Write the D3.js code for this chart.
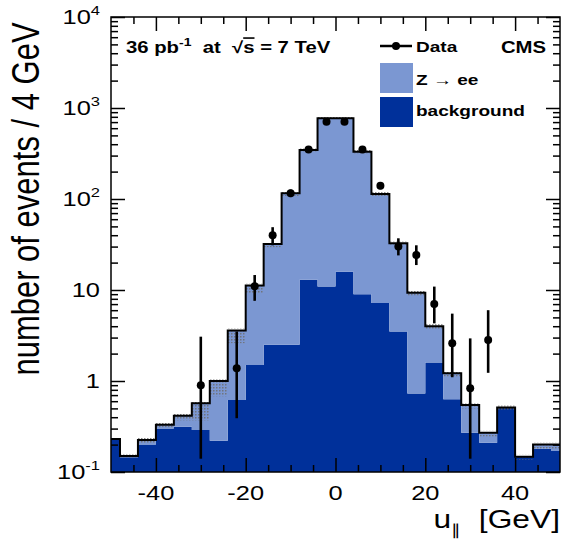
<!DOCTYPE html>
<html>
<head>
<meta charset="utf-8">
<script src="https://cdn.jsdelivr.net/npm/d3@7"></script>
<style>
  html, body { margin: 0; padding: 0; background: #fff; }
  svg { display: block; font-family: "Liberation Sans", Arial, Helvetica, sans-serif; }
</style>
</head>
<body>
<svg id="chart" width="562" height="543"></svg>
<script>
// u_parallel histogram, 4 GeV bins (bin centres)
const binCenters = [-50, -46, -42, -38, -34, -30, -26, -22, -18, -14, -10, -6, -2,
                    2, 6, 10, 14, 18, 22, 26, 30, 34, 38, 42, 46, 50];
const binWidth = 4;

// expected events per bin
const background = [0.23, 0.145, 0.2, 0.3, 0.315, 0.29, 0.22, 0.62, 1.5, 2.5, 2.5, 13, 10.9,
                    15.9, 9.0, 7.2, 3.5, 0.73, 1.6, 0.63, 0.27, 0.21, 0.51, 0.147, 0.18, 0.17];
const zee = [0, 0.005, 0.025, 0.03, 0.1, 0.28, 0.78, 2.98, 9.7, 29.5, 113.5, 332, 759,
             754, 322, 106, 29.1, 8.57, 2.4, 0.59, 0.275, 0.06, 0, 0, 0.02, 0.03];

// lower edge of the simulation statistical-uncertainty band
const mcBandLow = [0.22, 0.142, 0.205, 0.31, 0.37, 0.37, 0.68, 2.6, 9.2, 29.5, 108, 330, 750,
                   750, 318, 108, 30.5, 8.7, 3.7, 1.12, 0.5, 0.245, 0.48, 0.137, 0.18, 0.18];

// observed data (null = no entry drawn)
const dataValue = [null, null, null, null, null, 0.9, null, 1.38, 11, 40, 116, 350, 706,
                   706, 350, 140, 30, 24.3, 7.0, 2.6, 0.83, 2.83, null, null, null, null];
const dataErrLow = [null, null, null, null, null, 0.14, null, 0.39, 7.6, 31, 105, 331, 680,
                    680, 331, 128, 24, 18.8, 4.3, 1.1, 0.14, 1.23, null, null, null, null];
const dataErrHigh = [null, null, null, null, null, 3.07, null, 3.5, 14.6, 49, 127, 369, 732,
                     732, 369, 152, 37, 31, 10.9, 5.5, 2.94, 6.0, null, null, null, null];

const xTicks = [-40, -20, 0, 20, 40];
const xTickLabels = ["-40", "-20", "0", "20", "40"];
const yTicks = [0.1, 1, 10, 100, 1000, 10000];
const yTickLabels = [["10", "-1"], ["1", ""], ["10", ""], ["10", "2"], ["10", "3"], ["10", "4"]];

const colBackground = "#00309a";
const colZee = "#7b97d2";
const S = 1.27; // horizontal glyph stretch used for all lettering

const svg = d3.select("#chart");
const L = 111, R = 560, T = 17, B = 472;

const x = d3.scaleLinear().domain([-50, 50]).range([L, R]);
const y = d3.scaleLog().domain([0.1, 1e4]).range([B, T]);

const defs = svg.append("defs");
defs.append("clipPath").attr("id", "plotclip")
  .append("rect").attr("x", L).attr("y", T).attr("width", R - L).attr("height", B - T);
const pat = defs.append("pattern").attr("id", "mcunc")
  .attr("width", 3).attr("height", 3).attr("patternUnits", "userSpaceOnUse");
pat.append("rect").attr("width", 1.5).attr("height", 1.5).attr("fill", "#6e6e6e");

// stacked simulation, drawn as step areas
const rows = binCenters.map((c, i) => ({ c, background: background[i], zee: zee[i] }));
const layers = d3.stack().keys(["background", "zee"])(rows);
const colors = { background: colBackground, zee: colZee };

const plot = svg.append("g").attr("clip-path", "url(#plotclip)");
const floorV = v => Math.max(v, 0.1);
const stepArea = d3.area()
  .x(d => x(d.e))
  .y0(d => y(floorV(d.lo)))
  .y1(d => y(floorV(d.hi)))
  .curve(d3.curveStepAfter);

layers.forEach(layer => {
  const pts = layer.map(d => ({ e: d.data.c - binWidth / 2, lo: d[0], hi: d[1] }));
  const last = layer[layer.length - 1];
  pts.push({ e: last.data.c + binWidth / 2, lo: last[0], hi: last[1] });
  plot.append("path").attr("d", stepArea(pts)).attr("fill", colors[layer.key]);
});

// total prediction
const total = rows.map(r => r.background + r.zee);

// uncertainty band
plot.append("g").selectAll("rect")
  .data(binCenters.map((c, i) => ({ c, lo: mcBandLow[i], hi: total[i] })))
  .join("rect")
  .attr("x", d => x(d.c - binWidth / 2))
  .attr("width", d => x(d.c + binWidth / 2) - x(d.c - binWidth / 2))
  .attr("y", d => y(d.hi) - 2)
  .attr("height", d => y(d.lo) - y(d.hi) + 2)
  .attr("fill", "url(#mcunc)")
  .attr("opacity", 0.85);

// outline of the total
const stepPts = binCenters.map((c, i) => [c - binWidth / 2, total[i]]);
stepPts.push([binCenters[binCenters.length - 1] + binWidth / 2, total[total.length - 1]]);
plot.append("path")
  .attr("d", d3.line().x(d => x(d[0])).y(d => y(d[1])).curve(d3.curveStepAfter)(stepPts))
  .attr("fill", "none").attr("stroke", "#000").attr("stroke-width", 2);

// data points
const dataPts = binCenters.map((c, i) => ({ c, v: dataValue[i], lo: dataErrLow[i], hi: dataErrHigh[i] }))
  .filter(d => d.v !== null);
const dg = plot.append("g");
dg.selectAll("line").data(dataPts).join("line")
  .attr("x1", d => x(d.c)).attr("x2", d => x(d.c))
  .attr("y1", d => y(d.lo)).attr("y2", d => y(d.hi))
  .attr("stroke", "#000").attr("stroke-width", 2.6);
dg.selectAll("circle").data(dataPts).join("circle")
  .attr("cx", d => x(d.c)).attr("cy", d => y(d.v)).attr("r", 4).attr("fill", "#000");

// axes with inward ticks on all four sides
function styleAxis(g) {
  g.select(".domain").remove();
  g.selectAll("text").remove();
  g.selectAll("line").attr("stroke", "#000").attr("stroke-width", 1.5);
}
const xMinor = d3.range(-45, 50, 5).filter(v => v % 20 !== 0);
const yMinor = [];
[0.1, 1, 10, 100, 1000].forEach(dec => { for (let k = 2; k <= 9; k++) yMinor.push(dec * k); });

svg.append("g").attr("transform", `translate(0,${B})`)
  .call(d3.axisBottom(x).tickValues(xTicks).tickSize(-14)).call(styleAxis);
svg.append("g").attr("transform", `translate(0,${B})`)
  .call(d3.axisBottom(x).tickValues(xMinor).tickSize(-7)).call(styleAxis);
svg.append("g").attr("transform", `translate(0,${T})`)
  .call(d3.axisTop(x).tickValues(xTicks).tickSize(-14)).call(styleAxis);
svg.append("g").attr("transform", `translate(0,${T})`)
  .call(d3.axisTop(x).tickValues(xMinor).tickSize(-7)).call(styleAxis);
svg.append("g").attr("transform", `translate(${L},0)`)
  .call(d3.axisLeft(y).tickValues(yTicks).tickSize(-14)).call(styleAxis);
svg.append("g").attr("transform", `translate(${L},0)`)
  .call(d3.axisLeft(y).tickValues(yMinor).tickSize(-7)).call(styleAxis);
svg.append("g").attr("transform", `translate(${R},0)`)
  .call(d3.axisRight(y).tickValues(yTicks).tickSize(-14)).call(styleAxis);
svg.append("g").attr("transform", `translate(${R},0)`)
  .call(d3.axisRight(y).tickValues(yMinor).tickSize(-7)).call(styleAxis);

svg.append("rect").attr("x", L).attr("y", T).attr("width", R - L).attr("height", B - T)
  .attr("fill", "none").attr("stroke", "#000").attr("stroke-width", 1.5);

// lettering
function stext(x0, y0, size, weight, anchor) {
  return svg.append("text")
    .attr("transform", `translate(${x0},${y0}) scale(${S},1)`)
    .attr("font-size", size).attr("font-weight", weight)
    .attr("text-anchor", anchor).attr("fill", "#000");
}

xTicks.forEach((v, i) => { stext(x(v), 500, 20, "normal", "middle").text(xTickLabels[i]); });

yTicks.forEach((v, i) => {
  const t = stext(100, y(v) + 7, 20, "normal", "end");
  t.append("tspan").text(yTickLabels[i][0]);
  if (yTickLabels[i][1]) t.append("tspan").attr("font-size", 13).attr("dy", -9).text(yTickLabels[i][1]);
});

// axis titles
const xt = stext(560, 528, 25, "normal", "end");
xt.append("tspan").text("u");
xt.append("tspan").attr("font-size", 15).attr("dy", 7).text("\u2225");
xt.append("tspan").attr("dy", -7).text("\u00a0\u00a0[GeV]");

svg.append("text")
  .attr("transform", `translate(39,199) scale(${S},1) rotate(-90)`)
  .attr("font-size", 31).attr("text-anchor", "middle").attr("fill", "#000")
  .text("number of events / 4 GeV");

// header
const hd = stext(126, 53, 16, "bold", "start");
hd.append("tspan").text("36 pb");
hd.append("tspan").attr("font-size", 11).attr("dy", -7).text("-1");
hd.append("tspan").attr("dy", 7).text("\u00a0 at \u00a0\u221a");
hd.append("tspan").attr("text-decoration", "overline").text("s");
hd.append("tspan").text(" = 7 TeV");
stext(546, 53, 16, "bold", "end").text("CMS");

// legend
svg.append("line").attr("x1", 380).attr("x2", 412).attr("y1", 46).attr("y2", 46)
  .attr("stroke", "#000").attr("stroke-width", 2.5);
svg.append("circle").attr("cx", 396).attr("cy", 46).attr("r", 4).attr("fill", "#000");
stext(416, 52, 15, "bold", "start").text("Data");
svg.append("rect").attr("x", 380).attr("y", 63).attr("width", 33).attr("height", 30).attr("fill", colZee);
stext(416, 85, 15, "bold", "start").text("Z \u2192 ee");
svg.append("rect").attr("x", 380).attr("y", 97).attr("width", 33).attr("height", 30).attr("fill", colBackground);
stext(416, 116, 15, "bold", "start").text("background");
</script>
</body>
</html>
